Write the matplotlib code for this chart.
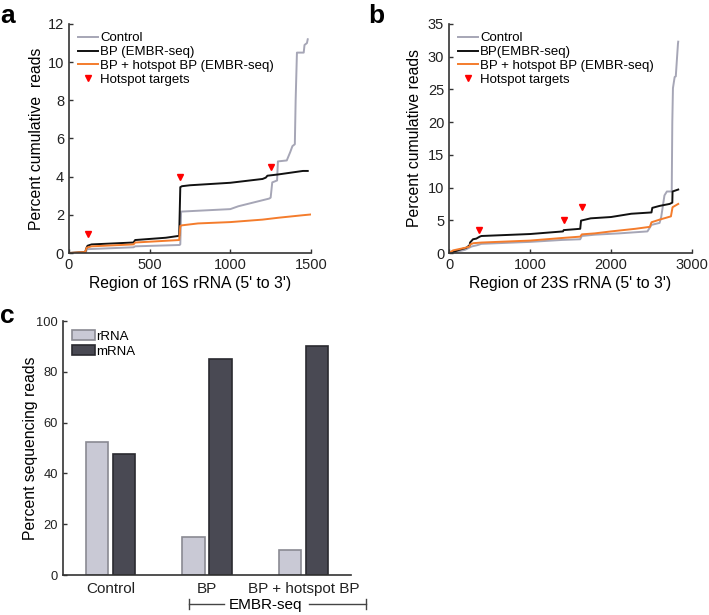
import matplotlib
matplotlib.use('Agg')
import matplotlib.pyplot as plt

plt.rcParams['font.family'] = ['Liberation Sans', 'DejaVu Sans']

# panel a : 16S rRNA cumulative reads
x16_ctrl = [0, 105, 110, 400, 410, 685, 690, 695, 1000, 1050, 1240, 1250, 1260, 1290, 1295,
            1350, 1372, 1385, 1400, 1405, 1413, 1455, 1460, 1475, 1480]
y16_ctrl = [0, 0.02, 0.2, 0.3, 0.35, 0.42, 0.45, 2.17, 2.3, 2.45, 2.85, 2.9, 3.7, 3.8, 4.8,
            4.85, 5.3, 5.6, 5.7, 8.0, 10.5, 10.5, 10.9, 11.0, 11.2]
x16_bp = [0, 100, 110, 115, 140, 400, 410, 600, 683, 690, 700, 750, 1000, 1100, 1200, 1220,
          1230, 1300, 1450, 1480]
y16_bp = [0, 0.05, 0.3, 0.38, 0.45, 0.55, 0.68, 0.8, 0.9, 3.45, 3.5, 3.55, 3.68, 3.78, 3.88,
          3.95, 4.05, 4.12, 4.3, 4.3]
x16_hs = [0, 100, 110, 140, 400, 410, 683, 690, 700, 800, 1000, 1200, 1300, 1450, 1500]
y16_hs = [0, 0.05, 0.28, 0.35, 0.45, 0.55, 0.68, 1.42, 1.45, 1.55, 1.62, 1.75, 1.85, 1.98, 2.02]
hot16_x = [115, 690, 1250]
hot16_y = [1.0, 4.0, 4.5]

# panel b : 23S rRNA cumulative reads
x23_ctrl = [0, 100, 200, 280, 350, 400, 1000, 1400, 1620, 1640, 1800, 2100, 2450, 2500, 2600,
            2620, 2660, 2690, 2750, 2757, 2765, 2786, 2800, 2827, 2830]
y23_ctrl = [0, 0.2, 0.5, 1.0, 1.2, 1.4, 1.7, 2.0, 2.1, 2.6, 2.8, 3.0, 3.3, 4.3, 4.6,
            5.5, 8.8, 9.4, 9.4, 20, 25.2, 26.9, 27.0, 32.0, 32.3]
x23_bp = [0, 60, 130, 214, 255, 260, 296, 337, 379, 400, 1000, 1407, 1416, 1620, 1630, 1750,
          2000, 2250, 2500, 2510, 2600, 2724, 2757, 2760, 2830]
y23_bp = [0, 0.2, 0.5, 0.8, 1.2, 1.6, 2.1, 2.2, 2.5, 2.6, 2.9, 3.3, 3.5, 3.7, 4.95, 5.3,
          5.5, 6.0, 6.2, 6.9, 7.2, 7.5, 7.7, 9.4, 9.7]
x23_hs = [0, 50, 200, 255, 260, 300, 400, 1000, 1400, 1620, 1640, 1800, 2000, 2300, 2480,
          2500, 2600, 2740, 2760, 2830]
y23_hs = [0, 0.4, 0.8, 1.0, 1.3, 1.5, 1.6, 1.9, 2.3, 2.5, 2.85, 3.0, 3.3, 3.7, 4.0,
          4.7, 5.1, 5.6, 7.0, 7.5]
hot23_x = [370, 1416, 1638]
hot23_y = [3.46, 5.0, 7.0]

# panel c : bars
groups = ['Control', 'BP', 'BP + hotspot BP']
rrna = [52.5, 15, 10]
mrna = [47.5, 85, 90]

c_ctrl = '#a6a6b6'
c_bp = '#111111'
c_hs = '#f47c2c'
c_hot = '#ff0000'
spine = '#333333'


def style(ax, size=10.5):
    for s in ['top', 'right']:
        ax.spines[s].set_visible(False)
    for s in ['left', 'bottom']:
        ax.spines[s].set_color(spine)
        ax.spines[s].set_linewidth(1.2)
    ax.tick_params(direction='in', length=3, width=1, colors=spine, labelcolor='#222222',
                   labelsize=size)


fig = plt.figure(figsize=(7.09, 6.15), dpi=100)

# a
ax = fig.add_axes([0.0973, 0.5886, 0.3413, 0.3724])
ax.plot(x16_ctrl, y16_ctrl, color=c_ctrl, lw=1.4, label='Control')
ax.plot(x16_bp, y16_bp, color=c_bp, lw=1.4, label='BP (EMBR-seq)')
ax.plot(x16_hs, y16_hs, color=c_hs, lw=1.4, label='BP + hotspot BP (EMBR-seq)')
ax.plot(hot16_x, hot16_y, 'v', color=c_hot, ms=5, label='Hotspot targets')
ax.set_xlim(0, 1500)
ax.set_ylim(0, 12)
ax.set_xticks([0, 500, 1000, 1500])
ax.set_yticks([0, 2, 4, 6, 8, 10, 12])
style(ax)
ax.set_xlabel("Region of 16S rRNA (5' to 3')", fontsize=11.3, labelpad=3)
ax.set_ylabel('Percent cumulative  reads', fontsize=11.3, labelpad=3)
ax.legend(loc='upper left', bbox_to_anchor=(0.0, 1.005), frameon=False, fontsize=9.5,
          handlelength=1.5, handletextpad=0.15, labelspacing=0.12, borderaxespad=0.3)
fig.text(0.0, 0.962, 'a', fontsize=19, fontweight='bold')

# b
ax = fig.add_axes([0.6333, 0.5886, 0.3427, 0.3724])
ax.plot(x23_ctrl, y23_ctrl, color=c_ctrl, lw=1.4, label='Control')
ax.plot(x23_bp, y23_bp, color=c_bp, lw=1.4, label='BP(EMBR-seq)')
ax.plot(x23_hs, y23_hs, color=c_hs, lw=1.4, label='BP + hotspot BP (EMBR-seq)')
ax.plot(hot23_x, hot23_y, 'v', color=c_hot, ms=5, label='Hotspot targets')
ax.set_xlim(0, 3000)
ax.set_ylim(0, 35)
ax.set_xticks([0, 1000, 2000, 3000])
ax.set_yticks([0, 5, 10, 15, 20, 25, 30, 35])
style(ax)
ax.set_xlabel("Region of 23S rRNA (5' to 3')", fontsize=11.3, labelpad=3)
ax.set_ylabel('Percent cumulative reads', fontsize=11.3, labelpad=4)
ax.legend(loc='upper left', bbox_to_anchor=(0.0, 1.005), frameon=False, fontsize=9.5,
          handlelength=1.5, handletextpad=0.15, labelspacing=0.12, borderaxespad=0.3)
fig.text(0.52, 0.962, 'b', fontsize=19, fontweight='bold')

# c
ax = fig.add_axes([0.0889, 0.0650, 0.4062, 0.4130])
pos = range(len(groups))
ax.bar([p - 0.14 for p in pos], rrna, width=0.23, color='#c9c9d5', edgecolor='#8a8a92',
       lw=1.2, label='rRNA')
ax.bar([p + 0.14 for p in pos], mrna, width=0.23, color='#494953', edgecolor='#2a2a30',
       lw=1.2, label='mRNA')
ax.set_xlim(-0.49, 2.49)
ax.set_ylim(0, 100)
ax.set_yticks([0, 20, 40, 60, 80, 100])
ax.set_xticks(list(pos))
ax.set_xticklabels(groups)
style(ax, 9.3)
ax.tick_params(axis='x', length=0, labelsize=11, pad=5)
ax.set_ylabel('Percent sequencing reads', fontsize=11.3, labelpad=-1)
ax.legend(loc='upper left', bbox_to_anchor=(0.0, 1.0), frameon=False, fontsize=9.5,
          handlelength=1.7, handleheight=0.8, handletextpad=0.1, labelspacing=0.15,
          borderaxespad=0.3)
# EMBR-seq bracket
trans = ax.get_xaxis_transform()
ax.plot([0.81, 1.18], [-0.114, -0.114], transform=trans, color='#444444', lw=1, clip_on=False)
ax.plot([2.06, 2.65], [-0.114, -0.114], transform=trans, color='#444444', lw=1, clip_on=False)
for xb in [0.81, 2.65]:
    ax.plot([xb, xb], [-0.135, -0.093], transform=trans, color='#444444', lw=1, clip_on=False)
ax.text(1.61, -0.118, 'EMBR-seq', transform=trans, ha='center', va='center', fontsize=11)
fig.text(0.0, 0.475, 'c', fontsize=19, fontweight='bold')

fig.savefig('out.png', dpi=100)
